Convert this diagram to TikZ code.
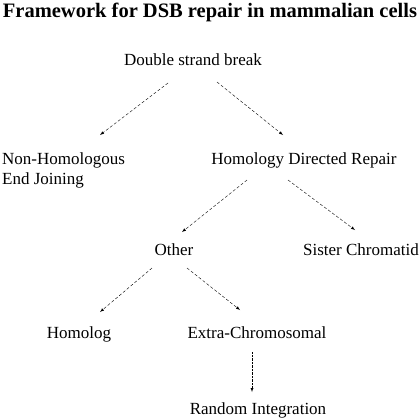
\documentclass[tikz,border=0pt]{standalone}
\usepackage{fontspec}
\setmainfont{Liberation Serif}
\usetikzlibrary{calc}
\tikzset{
    lbl/.style = {inner sep = 0pt, anchor = base, font = \fontsize{17}{20}\selectfont},
    hdg/.style = {inner sep = 0pt, anchor = base, font = \fontsize{20.5}{24}\selectfont\bfseries},
    dasharrow/.style = {densely dashed, -latex},
    dotarrow/.style = {densely dotted, -latex}
}
\begin{document}
\begin{tikzpicture}[x = 1pt, y = -1pt]

        \useasboundingbox (0, 0) rectangle (420, 418);

        \node (title) at (210, 17) [hdg] {Framework for DSB repair in mammalian cells};

        \node (dsb) at (193, 65) [lbl] {Double strand break};

        \node (nhej) at (2, 184) [lbl, anchor = base west, align = left] {Non-Homologous\\End Joining};
        \node (hdr) at (304, 164) [lbl] {Homology Directed Repair};
        \draw [dasharrow] ($(dsb.base) + (-25, 18)$) -- ($(nhej.north west) + (98, -17)$);
        \draw [dasharrow] ($(dsb.base) + (24, 17)$) -- ($(hdr.base) + (-21, -29)$);

        \node (other) at (174, 255) [lbl] {Other};
        \node (sister) at (361, 255) [lbl] {Sister Chromatid};
        \draw [dasharrow] ($(hdr.base) + (-57, 16)$) -- ($(other.base) + (8, -23)$);
        \draw [dasharrow] ($(hdr.base) + (-16, 16)$) -- ($(sister.base) + (-6, -25)$);

        \node (homolog) at (79, 338) [lbl] {Homolog};
        \node (extra) at (257, 338) [lbl] {Extra-Chromosomal};
        \draw [dasharrow] ($(other.base) + (-22, 13)$) -- ($(homolog.base) + (21, -26)$);
        \draw [dasharrow] ($(other.base) + (13, 13)$) -- ($(extra.base) + (-17, -28)$);

        \node (random) at (258, 414) [lbl] {Random Integration};
        \draw [dotarrow] ($(extra.base) + (-5, 14)$) -- ($(random.base) + (-6, -22)$);

    \end{tikzpicture}
\end{document}
